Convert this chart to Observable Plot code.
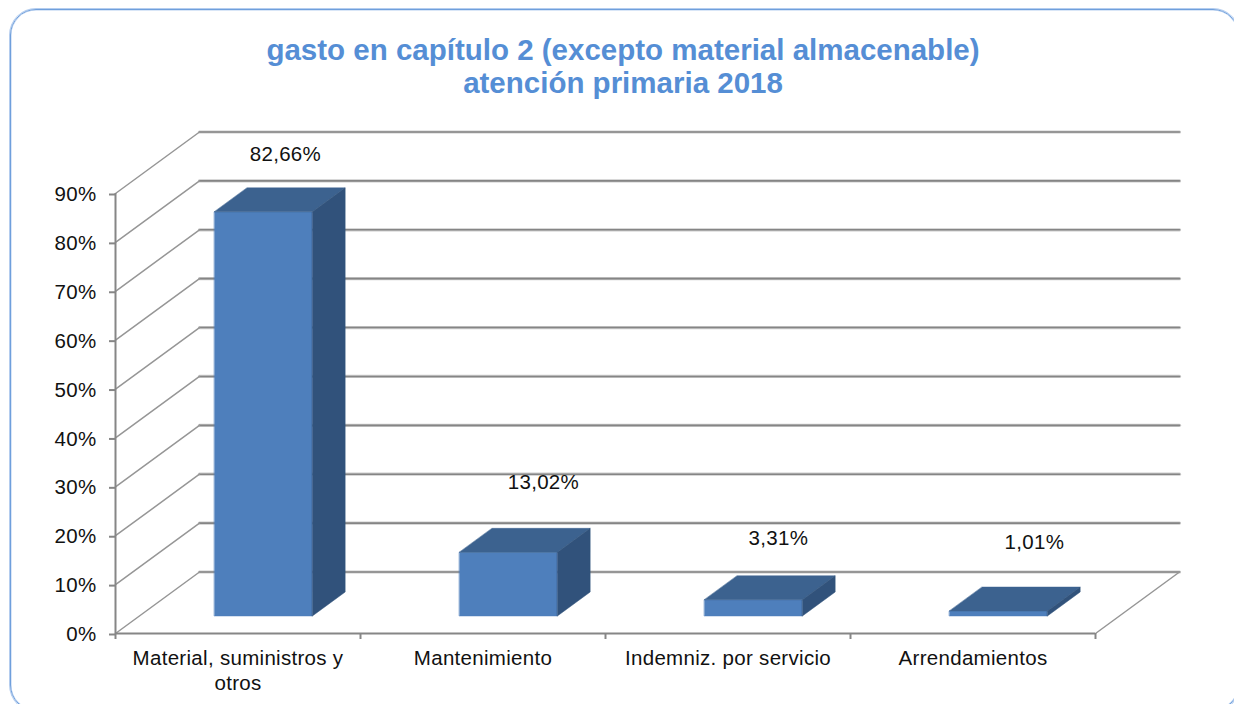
<!DOCTYPE html>
<html lang="es">
<head>
<meta charset="utf-8">
<script src="https://cdn.jsdelivr.net/npm/d3@7"></script>
<script src="https://cdn.jsdelivr.net/npm/@observablehq/plot@0.6"></script>
<style>
html,body{margin:0;padding:0;background:#fff;overflow:hidden}
#page{position:relative;width:1234px;height:704px;overflow:hidden;background:#fff;font-family:"Liberation Sans",Arial,sans-serif}
#frame{position:absolute;left:10px;top:9px;width:1229px;height:702px;box-sizing:border-box;border:1.5px solid #6f9fdc;border-radius:26px;box-shadow:0 0 0 1px #b4cdef,inset 0 0 0 .5px #b4cdef}
#title{position:relative;left:6px;height:100px;box-sizing:border-box;padding-top:33px;text-align:center;font-weight:bold;font-size:29.5px;line-height:33px;color:#558ed5}
#chart{position:relative}
#chart svg{display:block;overflow:visible;letter-spacing:.3px}
</style>
</head>
<body>
<div id="page">
  <div id="frame"></div>
  <div id="title">gasto en capítulo 2 (excepto material almacenable)<br>atención primaria 2018</div>
  <div id="chart"></div>
</div>
<script>
const categories = ["Material, suministros y\notros", "Mantenimiento", "Indemniz. por servicio", "Arrendamientos"];
const values = [82.66, 13.02, 3.31, 1.01];
const valueLabels = ["82,66%", "13,02%", "3,31%", "1,01%"];
const yTicks = [0, 10, 20, 30, 40, 50, 60, 70, 80, 90];
const xTicks = [0, 1, 2, 3, 4];

// oblique projection expressed in data units: depth 1 = back wall
const depthX = 84 / 245, depthY = 61.5 / 4.889;
const proj = (x, y, d) => ({px: x + d * depthX, py: y + d * depthY});
const barStart = 0.306, barWidth = 0.4, d0 = 0.285, d1 = 0.675;

const walls = yTicks.map(v => ({a: proj(0, v, 1), b: proj(4, v, 1), c: proj(0, v, 0)}));
const backLines = walls.flatMap((w, i) => [{k: i, ...w.a}, {k: i, ...w.b}]);
const sideLines = walls.flatMap((w, i) => [{k: i, ...w.c}, {k: i, ...w.a}]);
const floorEdge = [proj(4, 0, 0), proj(4, 0, 1)];

const face = (fn) => values.flatMap((v, i) => fn(i + barStart, i + barStart + barWidth, v).map(p => ({k: i, ...p})));
const fronts = face((l, r, v) => [proj(l, 0, d0), proj(r, 0, d0), proj(r, v, d0), proj(l, v, d0)]);
const tops = face((l, r, v) => [proj(l, v, d0), proj(r, v, d0), proj(r, v, d1), proj(l, v, d1)]);
const sides = face((l, r, v) => [proj(r, 0, d0), proj(r, 0, d1), proj(r, v, d1), proj(r, v, d0)]);
const poly = (data, color) => Plot.line(data, {x: "px", y: "py", z: "k", fill: color, stroke: color, strokeWidth: 0.5, curve: "linear-closed"});

const labelNudge = [[-6, 6], [7, -7], [-3, 2], [8, -6]];
const labelMarks = values.map((v, i) => {
  const p = proj(i + barStart + barWidth / 2, v, d0);
  return Plot.text([valueLabels[i]], {x: () => p.px, y: () => p.py, text: d => d, dx: 28 + labelNudge[i][0], dy: -63 + labelNudge[i][1], fill: "#111"});
});

const plot = Plot.plot({
  width: 1234, height: 604,
  marginLeft: 115, marginRight: 139, marginTop: 93, marginBottom: 71,
  x: {domain: [0, 4]},
  y: {domain: [0, 90]},
  style: {fontFamily: '"Liberation Sans",Arial,sans-serif', fontSize: "20.5px", background: "transparent", overflow: "visible"},
  marks: [
    Plot.line(backLines, {x: "px", y: "py", z: "k", stroke: "#cbcbcb", strokeWidth: 3.2}),
    Plot.line(backLines, {x: "px", y: "py", z: "k", stroke: "#858585", strokeWidth: 1.6}),
    Plot.line(sideLines, {x: "px", y: "py", z: "k", stroke: "#969696", strokeWidth: 1.5}),
    Plot.line(floorEdge, {x: "px", y: "py", stroke: "#969696", strokeWidth: 1.5}),
    Plot.ruleX([0], {y1: 0, y2: 90, stroke: "#868686", strokeWidth: 2}),
    Plot.ruleY([0], {x1: 0, x2: 4, stroke: "#868686", strokeWidth: 2}),
    Plot.axisY({ticks: yTicks, tickSize: 6, tickPadding: 13, tickFormat: d => d + "%", label: null, stroke: "#868686", strokeWidth: 2, fill: "#111", dy: 1}),
    Plot.axisX({ticks: xTicks, tickSize: 6, tickFormat: () => "", label: null, stroke: "#868686", strokeWidth: 2}),
    poly(fronts, "#4e7fbc"),
    poly(tops, "#3c628f"),
    poly(sides, "#31527b"),
    Plot.text(categories, {x: (d, i) => i + 0.5, y: () => 0, text: d => d, lineAnchor: "top", dy: 14, lineHeight: 1.22, fill: "#111"}),
    ...labelMarks
  ]
});
document.getElementById("chart").appendChild(plot);
</script>
</body>
</html>
